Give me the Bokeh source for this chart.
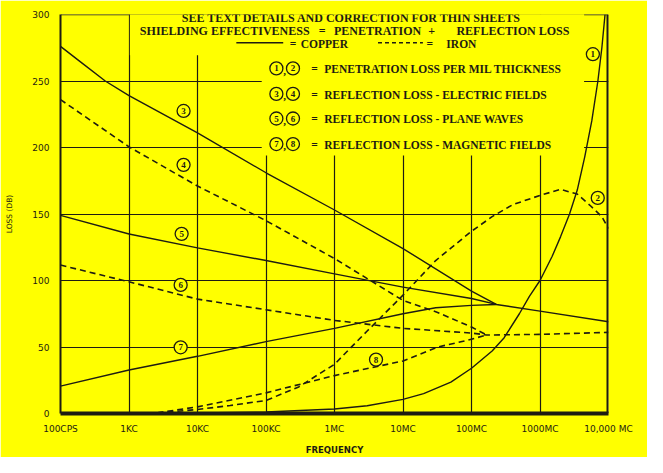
from bokeh.plotting import figure
from bokeh.models import (FixedTicker, CustomJSTickFormatter, Span, BoxAnnotation, Range1d)
from bokeh.core.properties import value
from bokeh.embed import file_html
from bokeh.resources import INLINE

YELLOW = "#ffff00"
INK = "#1e1c12"

# ---------------- axes ----------------
freq_ticks = [1e2, 1e3, 1e4, 1e5, 1e6, 1e7, 1e8, 1e9, 1e10]
freq_labels = ["100CPS", "1KC", "10KC", "100KC", "1MC", "10MC", "100MC", "1000MC", "10,000 MC"]
loss_ticks = [0, 50, 100, 150, 200, 250, 300]

# ---------------- data (frequency in c/s, loss in dB) ----------------
# (1) copper penetration loss per mil
cu_pen_f = [1e2, 1e3, 1e4, 1e5, 1e6, 3e6, 1e7, 2e7, 5e7, 1e8, 2e8, 3e8, 5e8, 7e8,
            1e9, 1.5e9, 2e9, 2.7e9, 3.5e9, 4.5e9, 5.7e9, 7e9, 8e9, 8.9e9]
cu_pen_db = [0.03, 0.1, 0.33, 1.1, 3.4, 5.8, 10.6, 15, 23.6, 34, 47, 57, 75, 88,
             100, 118, 133, 150, 168, 193, 220, 250, 275, 300]
# (2) iron penetration loss per mil
fe_pen_f = [2.6e3, 1e4, 3e4, 1e5, 3e5, 1e6, 3e6, 1e7, 3e7, 1e8, 2e8, 4e8,
            1e9, 2e9, 3.5e9, 5.5e9, 8e9, 1e10]
fe_pen_db = [0.5, 3, 6, 9.8, 20, 37, 62, 89, 115, 137, 148, 157,
             164, 168.5, 165, 156, 148, 139]
# (3) copper reflection loss, electric fields
cu_ele_f = [1e2, 2e2, 4.5e2, 1e3, 1e4, 1e5, 1e6, 1e7, 1e8, 2.3e8]
cu_ele_db = [276, 264, 250, 239, 211, 181, 153, 124, 92, 82]
# (4) iron reflection loss, electric fields
fe_ele_f = [1e2, 1e3, 1e4, 1e5, 1e6, 1e7, 3.2e7, 1e8, 1.66e8]
fe_ele_db = [236, 200.5, 171, 145, 116.5, 85, 76, 65, 59]
# (5) copper reflection loss, plane waves
cu_pw_f = [1e2, 1e3, 1e4, 1e5, 1e6, 1e7, 1e8, 2.3e8, 1e9, 1e10]
cu_pw_db = [149, 135, 124.5, 115, 105, 95, 86.5, 82, 77, 69]
# (6) iron reflection loss, plane waves
fe_pw_f = [1e2, 1e3, 1e4, 1e5, 1e6, 1e7, 1e8, 1.66e8, 1e9, 1e10]
fe_pw_db = [111.6, 99, 86, 78, 70, 64, 60.5, 59, 59.5, 61]
# (7) copper reflection loss, magnetic fields
cu_mag_f = [1e2, 1e3, 1e4, 1e5, 1e6, 1e7, 3e7, 1e8, 2.3e8]
cu_mag_db = [20.6, 32.7, 43, 54, 64, 75, 79.5, 81.3, 82]
# (8) iron reflection loss, magnetic fields
fe_mag_f = [2.6e3, 1e4, 1e5, 1e6, 1e7, 3.2e7, 8.7e7, 1.66e8]
fe_mag_db = [0.5, 5, 15.5, 28.5, 39.5, 50, 55, 59]

legend_rows = [
    ("1", "2", "PENETRATION LOSS PER MIL THICKNESS"),
    ("3", "4", "REFLECTION LOSS - ELECTRIC FIELDS"),
    ("5", "6", "REFLECTION LOSS - PLANE WAVES"),
    ("7", "8", "REFLECTION LOSS - MAGNETIC FIELDS"),
]

# ---------------- helpers: reference-pixel -> data coords (annotation placement) ----
X0, X1, Y0, Y1 = 62.0, 623.0, 437.0, 15.0
def fx(px):
    return 10 ** (2 + 8 * (px - X0) / (X1 - X0))
def fy(py):
    return 300 * (Y0 - py) / (Y0 - Y1)

p = figure(width=647, height=457, x_axis_type="log",
           x_range=Range1d(1e2, 1e10), y_range=Range1d(0, 300),
           output_backend="svg", toolbar_location=None,
           min_border_left=60, min_border_right=39, min_border_top=14, min_border_bottom=35,
           background_fill_color=YELLOW, border_fill_color=YELLOW,
           outline_line_color=None)

# grid
p.xgrid.ticker = FixedTicker(ticks=freq_ticks)
p.ygrid.ticker = FixedTicker(ticks=loss_ticks)
for g in (p.xgrid, p.ygrid):
    g.grid_line_color = INK
    g.grid_line_width = 1.2
    g.grid_line_alpha = 1.0

# x axis
xa = p.xaxis[0]
xa.ticker = FixedTicker(ticks=freq_ticks)
xa.formatter = CustomJSTickFormatter(args=dict(labels=freq_labels),
                                     code="const i = Math.round(Math.log10(tick)) - 2; return labels[i] || '';")
xa.axis_line_color = INK
xa.axis_line_width = 4
xa.major_tick_line_color = None
xa.minor_tick_line_color = None
xa.major_label_standoff = 4
xa.major_label_text_font = "DejaVu Sans"
xa.major_label_text_font_size = "9px"
xa.major_label_text_color = INK
xa.axis_label = "FREQUENCY"
xa.axis_label_text_font = "DejaVu Sans"
xa.axis_label_text_font_size = "8.5px"
xa.axis_label_text_font_style = "bold"
xa.axis_label_text_color = INK
xa.axis_label_standoff = 8

# y axis
ya = p.yaxis[0]
ya.ticker = FixedTicker(ticks=loss_ticks)
ya.axis_line_color = INK
ya.axis_line_width = 2
ya.major_tick_line_color = None
ya.minor_tick_line_color = None
ya.major_label_standoff = 5
ya.major_label_text_font = "DejaVu Sans"
ya.major_label_text_font_size = "9px"
ya.major_label_text_color = INK
ya.axis_label = "LOSS (DB)"
ya.axis_label_text_font = "DejaVu Sans"
ya.axis_label_text_font_size = "7.5px"
ya.axis_label_text_font_style = "normal"
ya.axis_label_text_color = INK
ya.axis_label_standoff = 15

# frame top border (partly hidden behind the title block) and heavy right border
p.add_layout(Span(location=300, dimension="width", line_color=INK, line_width=1.5, level="underlay"))
# blank areas behind the title/legend block (hide the grid only)
p.add_layout(BoxAnnotation(left=fx(133), right=fx(598), bottom=fy(58), top=306,
                           fill_color=YELLOW, fill_alpha=1, line_color=None, level="underlay"))
p.add_layout(BoxAnnotation(left=fx(268), right=fx(598), bottom=fy(164), top=306,
                           fill_color=YELLOW, fill_alpha=1, line_color=None, level="underlay"))
p.add_layout(Span(location=1e10, dimension="height", line_color=INK, line_width=4))

# curves
solid = dict(line_color=INK, line_width=1.4)
dashed = dict(line_color=INK, line_width=1.6, line_dash="6 4")
p.line(cu_pen_f, cu_pen_db, **solid)
p.line(fe_pen_f, fe_pen_db, **dashed)
p.line(cu_ele_f, cu_ele_db, **solid)
p.line(fe_ele_f, fe_ele_db, **dashed)
p.line(cu_pw_f, cu_pw_db, **solid)
p.line(fe_pw_f, fe_pw_db, **dashed)
p.line(cu_mag_f, cu_mag_db, **solid)
p.line(fe_mag_f, fe_mag_db, **dashed)

SERIF = value("Liberation Serif")

def tag(px, py, num, size=13):
    p.scatter([fx(px)], [fy(py)], marker="circle", size=size, fill_color=YELLOW,
              line_color=INK, line_width=1.3)
    p.text([fx(px)], [fy(py)], text=[num], text_font=SERIF, text_font_style="bold",
           text_font_size="9px", text_color=INK, text_align="center",
           text_baseline="middle")

# curve tags
tag_pos = [("1", 607, 57), ("2", 612, 209), ("3", 188, 117), ("4", 188, 174),
           ("5", 186, 247), ("6", 185, 301), ("7", 185, 367), ("8", 385, 380)]
for num, px, py in tag_pos:
    tag(px, py, num)

def txt(px, py, s, align="left", size="11.5px"):
    p.text([fx(px)], [fy(py)], text=[s], text_font=SERIF, text_font_style="bold",
           text_font_size=size, text_color=INK, text_align=align, text_baseline="middle")

# title block
txt(360, 19, "SEE TEXT DETAILS AND CORRECTION FOR THIN SHEETS", "center", "12px")
txt(317, 32, "SHIELDING EFFECTIVENESS", "right", "12px")
txt(330, 32, "=", "center", "12px")
txt(342, 32, "PENETRATION", "left", "12px")
txt(442, 32, "+", "center", "12px")
txt(583, 32, "REFLECTION LOSS", "right", "12px")
p.line([fx(242), fx(290)], [fy(45), fy(45)], line_color=INK, line_width=1.5)
txt(300, 46, "=", "center")
txt(308, 46, "COPPER")
p.line([fx(387), fx(433)], [fy(45), fy(45)], line_color=INK, line_width=1.5, line_dash="4 3")
txt(440, 46, "=", "center")
txt(457, 46, "IRON")

row_y = [72, 99, 125, 152]
for (a, b, label), py in zip(legend_rows, row_y):
    tag(283, py, a)
    tag(300, py, b)
    txt(291.5, py + 3, ",", "center", "11px")
    txt(322, py + 1, "=", "center")
    txt(332, py + 1, label, "left", "11.5px")

open("out.html", "w").write(file_html(p, INLINE))
